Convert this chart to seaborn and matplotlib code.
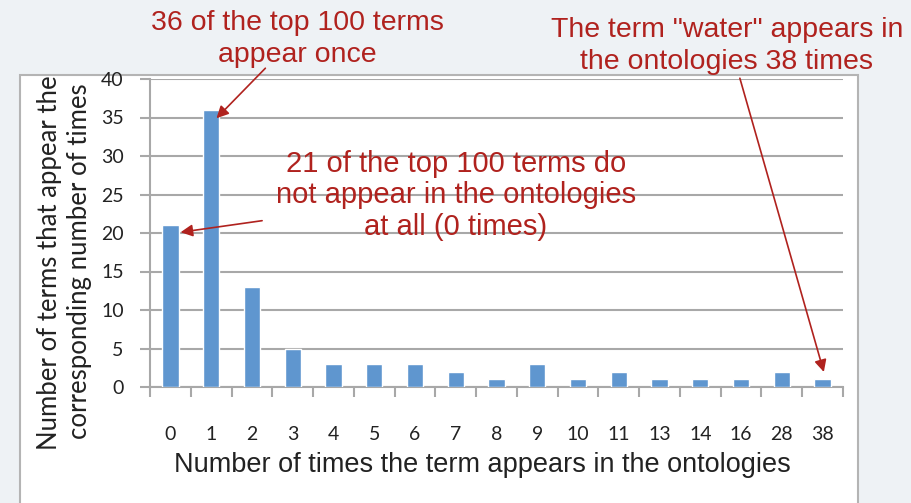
import matplotlib
matplotlib.use("Agg")
import matplotlib.pyplot as plt
import matplotlib.patches as mpatches
import seaborn as sns
import pandas as pd

categories = ["0", "1", "2", "3", "4", "5", "6", "7", "8", "9", "10", "11", "13", "14", "16", "28", "38"]
counts = [21, 36, 13, 5, 3, 3, 3, 2, 1, 3, 1, 2, 1, 1, 1, 2, 1]
y_ticks = [0, 5, 10, 15, 20, 25, 30, 35, 40]

sns.set_theme(style="white")
plt.rcParams['font.family'] = ['Liberation Sans', 'DejaVu Sans']
calibri_like = ["Lato", "DejaVu Sans"]

W, H = 912, 503
fig = plt.figure(figsize=(W / 100, H / 100), dpi=100)
fig.patch.set_facecolor("#eef2f5")

# white chart box
box = mpatches.Rectangle((20 / W, -0.01), (858 - 20) / W, 1 - 75 / H + 0.01, transform=fig.transFigure,
                         facecolor="white", edgecolor="#b4b4b4", linewidth=1.5, zorder=-10)
fig.add_artist(box)

ax = fig.add_axes([150 / W, 1 - 387 / H, (843 - 150) / W, (387 - 79) / H])
ax.set_zorder(2)
ax.set_facecolor("white")
df = pd.DataFrame({"times": categories, "terms": counts})
sns.barplot(data=df, x="times", y="terms", order=categories, color="#5f96cf",
            saturation=1, width=0.4, ax=ax, zorder=3)

ax.set_ylim(0, 40)
ax.set_xlim(-0.5, len(categories) - 0.5)
ax.set_yticks(y_ticks)
ax.set_yticklabels([str(v) for v in y_ticks], fontsize=14, color="#222222", family=calibri_like)
ax.yaxis.grid(True, color="#a8a8a8", linewidth=1.5, zorder=0)
ax.set_axisbelow(True)
for s in ["top", "right"]:
    ax.spines[s].set_visible(False)
for s in ["left", "bottom"]:
    ax.spines[s].set_color("#a8a8a8")
    ax.spines[s].set_linewidth(1.5)
ax.tick_params(axis="y", which="major", length=7, width=1.5, color="#a8a8a8", left=True, pad=12)
ax.set_xticks(range(len(categories)))
ax.set_xticklabels(categories, fontsize=14, color="#222222", family=calibri_like)
ax.tick_params(axis="x", which="major", length=0, pad=28)
ax.set_xticks([i - 0.5 for i in range(len(categories) + 1)], minor=True)
ax.tick_params(axis="x", which="minor", length=7, width=1.5, color="#a8a8a8", bottom=True, direction="out")
ax.set_xlabel("")
ax.set_ylabel("")

fig.text(482 / W, 1 - 465 / H, "Number of times the term appears in the ontologies",
         ha="center", va="center", fontsize=19.5, color="#222222")
fig.text(50 / W, 1 - 263 / H, "Number of terms that appear the", rotation=90,
         ha="center", va="center", fontsize=18.5, color="#222222", family=calibri_like)
fig.text(80 / W, 1 - 261 / H, "corresponding number of times", rotation=90,
         ha="center", va="center", fontsize=18.5, color="#222222", family=calibri_like)

red = "#b0221e"
fig.text(297 / W, 1 - 39 / H, "36 of the top 100 terms\nappear once", ha="center", va="center",
         fontsize=20.5, color=red, linespacing=1.3)
fig.text(727 / W, 1 - 46 / H, "The term \"water\" appears in\nthe ontologies 38 times", ha="center",
         va="center", fontsize=20.5, color=red, linespacing=1.3)
ax.text(7.0, 24.9, "21 of the top 100 terms do\nnot appear in the ontologies\nat all (0 times)",
        ha="center", va="center", fontsize=21, color=red, linespacing=1.15, zorder=5)

arrow = dict(arrowstyle="-|>", color=red, lw=1.2, mutation_scale=18, shrinkA=0, shrinkB=0)
ax.annotate("", xy=(1.13, 34.9), xytext=(2.33, 41.4), arrowprops=arrow, annotation_clip=False, zorder=6)
ax.annotate("", xy=(0.25, 20.1), xytext=(2.25, 21.6), arrowprops=arrow, annotation_clip=False, zorder=6)
ax.annotate("", xy=(16.03, 1.95), xytext=(13.97, 40.1), arrowprops=arrow, annotation_clip=False, zorder=6)

fig.savefig("out.png", dpi=100, facecolor=fig.get_facecolor())
